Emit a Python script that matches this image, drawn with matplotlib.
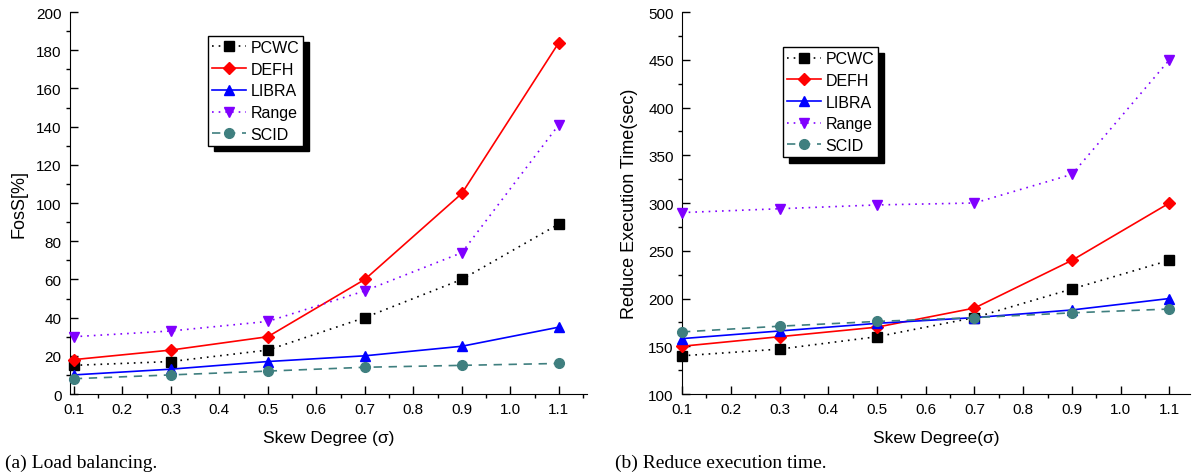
import matplotlib
matplotlib.use("Agg")
import matplotlib.pyplot as plt
from matplotlib.ticker import MultipleLocator

plt.rcParams["font.family"] = ["Liberation Sans", "DejaVu Sans"]

skew = [0.1, 0.3, 0.5, 0.7, 0.9, 1.1]
methods = ["PCWC", "DEFH", "LIBRA", "Range", "SCID"]

foss_pcwc = [15, 17, 23, 40, 60, 89]
foss_defh = [18, 23, 30, 60, 105, 184]
foss_libra = [10, 13, 17, 20, 25, 35]
foss_range = [30, 33, 38, 54, 74, 141]
foss_scid = [8, 10, 12, 14, 15, 16]

time_pcwc = [140, 147, 160, 180, 210, 240]
time_defh = [150, 160, 170, 190, 240, 300]
time_libra = [158, 166, 174, 180, 188, 200]
time_range = [290, 294, 298, 300, 330, 450]
time_scid = [165, 171, 176, 180, 185, 189]

styles = {
    "PCWC": dict(color="black", linestyle=(0, (1, 3)), marker="s", markersize=6.5),
    "DEFH": dict(color="#ff0000", linestyle="-", marker="D", markersize=6.5),
    "LIBRA": dict(color="#0000ff", linestyle="-", marker="^", markersize=7.5),
    "Range": dict(color="#8000ff", linestyle=(0, (1, 3)), marker="v", markersize=7.5),
    "SCID": dict(color="#3f7f7f", linestyle=(0, (5, 4)), marker="o", markersize=7),
}


def draw(ax, series, ylim, ymajor, yminor, xlim, ylabel, xlabel, legend_xy, ylabelpad):
    for name, values in zip(methods, series):
        st = styles[name]
        ax.plot(skew, values, color=st["color"], linestyle=st["linestyle"], linewidth=1.2,
                marker=st["marker"], markersize=st["markersize"], markerfacecolor=st["color"],
                markeredgecolor=st["color"], label=name, clip_on=False, zorder=3)
    ax.set_xlim(*xlim)
    ax.set_ylim(*ylim)
    ax.xaxis.set_major_locator(MultipleLocator(0.1))
    ax.xaxis.set_minor_locator(MultipleLocator(0.05))
    ax.yaxis.set_major_locator(MultipleLocator(ymajor))
    ax.yaxis.set_minor_locator(MultipleLocator(yminor))
    ax.xaxis.set_major_formatter(plt.FuncFormatter(lambda v, p: f"{v:.1f}"))
    ax.spines["top"].set_visible(False)
    ax.spines["right"].set_visible(False)
    # major ticks point inward, minor ticks outward, as in the original
    ax.tick_params(which="major", direction="in", length=5.5, width=1, labelsize=11, pad=6)
    ax.tick_params(which="minor", direction="out", length=3, width=1)
    ax.set_xlabel(xlabel, fontsize=12.5, labelpad=10)
    ax.set_ylabel(ylabel, fontsize=13, labelpad=ylabelpad)
    leg = ax.legend(loc="upper left", bbox_to_anchor=legend_xy, borderaxespad=0,
                    fancybox=False, edgecolor="black", framealpha=1, fontsize=11.5,
                    handlelength=2.1, handletextpad=0.3, labelspacing=0.42,
                    borderpad=0.25, shadow={"ox": 4, "oy": -4, "color": "black", "alpha": 1})
    leg.get_frame().set_linewidth(1.0)


fig = plt.figure(figsize=(11.94, 4.77), dpi=100)
ax1 = fig.add_axes([0.0586, 0.1719, 0.4330, 0.8008])
ax2 = fig.add_axes([0.5712, 0.1719, 0.4254, 0.8008])

draw(ax1, [foss_pcwc, foss_defh, foss_libra, foss_range, foss_scid], (0, 200), 20, 10,
     (0.092, 1.158), "FosS[%]", "Skew Degree (σ)", (0.267, 0.937), 6)
draw(ax2, [time_pcwc, time_defh, time_libra, time_range, time_scid], (100, 500), 50, 25,
     (0.1, 1.142), "Reduce Execution Time(sec)", "Skew Degree(σ)", (0.199, 0.908), 7)

serif = ["Liberation Serif", "DejaVu Serif"]
fig.text(0.004, 0.02, "(a) Load balancing.", fontsize=14, family=serif)
fig.text(0.515, 0.02, "(b) Reduce execution time.", fontsize=14, family=serif)

fig.savefig("out.png", dpi=100)
